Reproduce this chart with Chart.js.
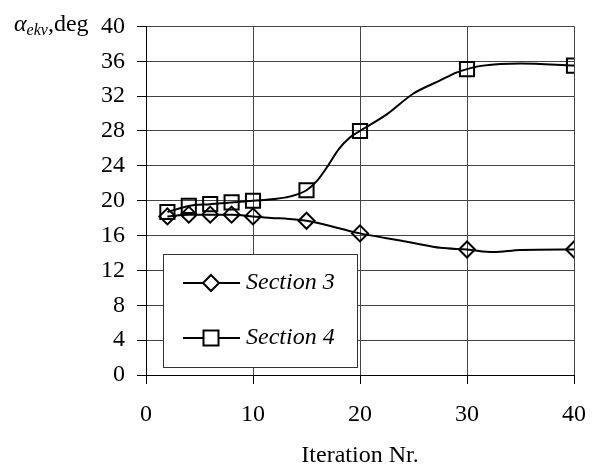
<!DOCTYPE html>
<html lang="en">
  <head>
    <meta charset="UTF-8" />
    <title>Section angle vs iteration</title>
    <style>
      body { margin: 0; background: #fff; }
    </style>
  </head>
  <body>
    <canvas id="myChart" width="602" height="468"></canvas>
  </body>
  <script src="https://cdn.jsdelivr.net/npm/chart.js"></script>
  <script>
    // Values
    let iterS3 = [2, 4, 6, 8, 10, 12, 13, 15, 20, 22.5, 25, 27.5, 30, 32.5, 35, 40];
    let valS3 = [18.2, 18.4, 18.4, 18.4, 18.2, 18.0, 17.95, 17.7, 16.25, 15.7, 15.15, 14.6, 14.4, 14.1, 14.35, 14.4];
    let iterS4 = [2, 4, 6, 8, 10, 12, 13.5, 15, 16, 17, 18, 19, 20, 22.5, 25, 27.5, 29, 30, 31.5, 35, 40];
    let valS4 = [18.7, 19.4, 19.6, 19.8, 20.0, 20.2, 20.5, 21.2, 22.3, 24.0, 25.9, 27.2, 28.0, 29.9, 32.3, 33.8, 34.7, 35.1, 35.5, 35.75, 35.5];
    // iterations that carry a marker
    let markedIters = [2, 4, 6, 8, 10, 15, 20, 30, 40];
    let seriesNames = ["Section 3", "Section 4"];

    const serif = "'Liberation Serif', 'Times New Roman', serif";
    const tickFont = { family: serif, size: 24 };

    function toPoints(xs, ys) {
      return xs.map((x, i) => ({ x: x, y: ys[i] }));
    }

    // marker only on the marked iterations
    function markerRadius(r) {
      return (c) => (c.raw && markedIters.includes(c.raw.x) ? r : 0);
    }

    // y title with subscript, drawn top-left
    const yTitle = {
      id: "yTitle",
      afterDraw(chart) {
        const ctx = chart.ctx;
        ctx.save();
        ctx.fillStyle = "#000";
        ctx.textBaseline = "alphabetic";
        ctx.textAlign = "left";
        let x = 14;
        ctx.font = "italic 24px " + serif;
        ctx.fillText("\u03B1", x, 31);
        x += ctx.measureText("\u03B1").width;
        ctx.font = "italic 16px " + serif;
        ctx.fillText("ekv", x, 35);
        x += ctx.measureText("ekv").width;
        ctx.font = "24px " + serif;
        ctx.fillText(",deg", x, 31);
        ctx.restore();
      },
    };

    // boxed legend inside the plot
    const boxLegend = {
      id: "boxLegend",
      afterDatasetsDraw(chart) {
        const ctx = chart.ctx;
        const box = { x: 163, y: 254, w: 194, h: 113 };
        ctx.save();
        ctx.fillStyle = "#fff";
        ctx.fillRect(box.x, box.y, box.w, box.h);
        ctx.strokeStyle = "#333";
        ctx.lineWidth = 1;
        ctx.strokeRect(box.x + 0.5, box.y + 0.5, box.w, box.h);

        const rows = [283, 338];
        chart.data.datasets.forEach((ds, i) => {
          const y = rows[i];
          ctx.strokeStyle = "#000";
          ctx.lineWidth = 2;
          ctx.beginPath();
          ctx.moveTo(183, y);
          ctx.lineTo(240, y);
          ctx.stroke();
          const cx = 211;
          ctx.beginPath();
          if (ds.pointStyle === "rectRot") {
            const r = 8;
            ctx.moveTo(cx - r, y);
            ctx.lineTo(cx, y - r);
            ctx.lineTo(cx + r, y);
            ctx.lineTo(cx, y + r);
            ctx.closePath();
          } else {
            const s = 7.5;
            ctx.rect(cx - s, y - s, 2 * s, 2 * s);
          }
          ctx.fillStyle = "#fff";
          ctx.fill();
          ctx.stroke();
          ctx.fillStyle = "#000";
          ctx.font = "italic 24px " + serif;
          ctx.textBaseline = "middle";
          ctx.fillText(ds.label, 246, y);
        });
        ctx.restore();
      },
    };

    var ctx = document.getElementById("myChart").getContext("2d");
    var chart = new Chart(ctx, {
      type: "line",
      data: {
        datasets: [
          {
            label: seriesNames[0],
            data: toPoints(iterS3, valS3),
            borderColor: "#000",
            borderWidth: 2,
            pointStyle: "rectRot",
            pointRadius: markerRadius(8),
            pointBorderColor: "#000",
            pointBorderWidth: 2,
            pointBackgroundColor: "rgba(0,0,0,0)",
            cubicInterpolationMode: "monotone",
          },
          {
            label: seriesNames[1],
            data: toPoints(iterS4, valS4),
            borderColor: "#000",
            borderWidth: 2,
            pointStyle: "rect",
            pointRadius: markerRadius(10),
            pointBorderColor: "#000",
            pointBorderWidth: 2,
            pointBackgroundColor: "rgba(0,0,0,0)",
            cubicInterpolationMode: "monotone",
          },
        ],
      },
      options: {
        responsive: false,
        animation: false,
        layout: { padding: { top: 14, right: 22, left: 0, bottom: 0 } },
        plugins: {
          legend: { display: false },
          tooltip: { enabled: false },
        },
        scales: {
          x: {
            type: "linear",
            min: 0,
            max: 40,
            ticks: { stepSize: 10, color: "#000", font: tickFont, padding: 16, maxRotation: 0 },
            grid: { color: "#444", tickLength: 9, tickColor: "#000" },
            border: { color: "#000", width: 1 },
            title: {
              display: true,
              text: "Iteration Nr.",
              color: "#000",
              font: tickFont,
              padding: { top: 0, bottom: -2 },
            },
            afterFit: (s) => {
              s.height = 93;
            },
          },
          y: {
            min: 0,
            max: 40,
            ticks: { stepSize: 4, color: "#000", font: tickFont, padding: 12 },
            grid: { color: "#444", tickLength: 9, tickColor: "#000" },
            border: { color: "#000", width: 1 },
            afterFit: (s) => {
              s.width = 146;
            },
          },
        },
      },
      plugins: [yTitle, boxLegend],
    });
  </script>
</html>
